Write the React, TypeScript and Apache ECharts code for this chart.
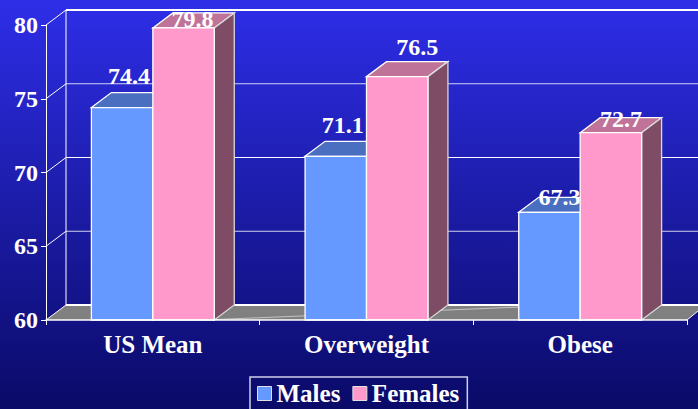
import React, { useEffect, useRef } from "react";
import * as echarts from "echarts";

const categories = ["US Mean", "Overweight", "Obese"];
const males = [74.4, 71.1, 67.3];
const females = [79.8, 76.5, 72.7];
const yTicks = [60, 65, 70, 75, 80];
const maleLabelShift = [[7, -32], [7, -31], [10, -15]];
const femaleLabelShift = [[9, -9], [20, -30], [10, -14]];

const DX = 20;
const DY = -15;
const FONT = '"Liberation Serif", serif';
const EDGE = "#ffffff";

function barSeries(name: string, values: number[], side: number, front: string, top: string, right: string, z: number) {
  return {
    type: "custom",
    name,
    z,
    coordinateSystem: "cartesian2d",
    clip: false,
    itemStyle: { color: front },
    data: values.map((v, i) => [i, v]),
    encode: { x: 0, y: 1 },
    renderItem: (_: any, api: any) => {
      const cat = api.value(0);
      const val = api.value(1);
      const p = api.coord([cat, val]);
      const base = api.coord([cat, 60]);
      const w = api.size([1, 0])[0] * 0.2875;
      const x0 = p[0] + (side < 0 ? -w : 0);
      const x1 = x0 + w;
      const y0 = p[1];
      const y1 = base[1];
      const edge = { stroke: EDGE, lineWidth: 1.3 };
      return {
        type: "group",
        children: [
          { type: "polygon", shape: { points: [[x0, y0], [x0 + DX, y0 + DY], [x1 + DX, y0 + DY], [x1, y0]] }, style: { fill: top, ...edge } },
          { type: "polygon", shape: { points: [[x1, y0], [x1 + DX, y0 + DY], [x1 + DX, y1 + DY], [x1, y1]] }, style: { fill: right, stroke: "#d8d8d8", lineWidth: 1.3 } },
          { type: "rect", shape: { x: x0, y: y0, width: w, height: y1 - y0 }, style: { fill: front, ...edge } },
        ],
      };
    },
  };
}

function labelSeries(values: number[], side: number, shift: number[][]) {
  return {
    type: "custom",
    z: 20,
    silent: true,
    coordinateSystem: "cartesian2d",
    clip: false,
    data: values.map((v, i) => [i, v]),
    encode: { x: 0, y: 1 },
    renderItem: (params: any, api: any) => {
      const p = api.coord([api.value(0), api.value(1)]);
      const w = api.size([1, 0])[0] * 0.2875;
      const sh = shift[params.dataIndex];
      return {
        type: "text",
        x: p[0] + (side * w) / 2 + sh[0],
        y: p[1] + sh[1],
        style: {
          text: api.value(1).toFixed(1),
          fill: "#ffffff",
          font: `bold 24px ${FONT}`,
          align: "center",
          verticalAlign: "middle",
        },
      };
    },
  };
}

export default function App() {
  const ref = useRef<HTMLDivElement>(null);
  useEffect(() => {
    document.body.style.margin = "0";
    const chart = echarts.init(ref.current!, undefined, { renderer: "svg" });
    const wallSeries = {
      type: "custom",
      z: 1,
      silent: true,
      coordinateSystem: "cartesian2d",
      clip: false,
      data: yTicks.map((t) => [0, t]),
      encode: { x: 0, y: 1 },
      renderItem: (_: any, api: any) => {
        const v = api.value(1);
        const band = api.size([1, 0])[0];
        const c0 = api.coord([0, v]);
        const c2 = api.coord([2, v]);
        const a = [c0[0] - band / 2, c0[1]];
        const b = [c2[0] + band / 2, c2[1]];
        const R = 698;
        const children: any[] = [];
        if (v === 60) {
          const top = api.coord([0, 80]);
          children.push(
            {
              type: "polygon",
              shape: { points: [[a[0], a[1]], [a[0] + DX, a[1] + DY], [R, a[1] + DY], [R, a[1] - 9], [b[0], b[1]]] },
              style: { fill: "#808080" },
            },
            { type: "line", shape: { x1: 216, y1: a[1] - 0.5, x2: 570, y2: a[1] + DY }, style: { stroke: "#c4c4c4", lineWidth: 1 } },
            { type: "line", shape: { x1: a[0] + DX, y1: top[1] + DY, x2: a[0] + DX, y2: a[1] + DY }, style: { stroke: "#ffffff", lineWidth: 1 } },
            { type: "line", shape: { x1: b[0], y1: b[1], x2: R, y2: a[1] - 9 }, style: { stroke: "#ffffff", lineWidth: 1 } },
          );
        }
        children.push(
          { type: "line", shape: { x1: a[0], y1: a[1], x2: a[0] + DX, y2: a[1] + DY }, style: { stroke: "#ffffff", lineWidth: 1 } },
          {
            type: "line",
            shape: { x1: a[0] + DX, y1: a[1] + DY, x2: R, y2: a[1] + DY },
            style: { stroke: "#ffffff", lineWidth: v === 80 || v === 60 ? 2 : 1, opacity: v === 65 || v === 75 ? 0.8 : 1 },
          },
        );
        return { type: "group", children };
      },
    };
    chart.setOption({
      animation: false,
      backgroundColor: {
        type: "linear", x: 0, y: 0, x2: 0, y2: 1,
        colorStops: [{ offset: 0, color: "#2e2ee8" }, { offset: 1, color: "#0a0a68" }],
      },
      textStyle: { fontFamily: FONT },
      grid: { left: 46, top: 25, width: 641, height: 295 },
      legend: {
        left: 250,
        top: 377,
        data: ["Males", "Females"],
        itemWidth: 14,
        itemHeight: 14,
        itemGap: 12,
        itemStyle: { borderColor: "#e0e0e0", borderWidth: 1 },
        padding: [4, 8, 30, 7],
        borderColor: "#d0d0e8",
        borderWidth: 1.5,
        textStyle: { color: "#ffffff", fontSize: 25, fontWeight: "bold", fontFamily: FONT },
        icon: "rect",
      },
      xAxis: {
        type: "category",
        data: categories,
        boundaryGap: true,
        axisLine: { lineStyle: { color: "#ffffff", width: 1.5 } },
        axisTick: { show: true, length: 5, lineStyle: { color: "#ffffff" } },
        axisLabel: { color: "#ffffff", fontSize: 25, fontWeight: "bold", fontFamily: FONT, margin: 12 },
        splitLine: { show: false },
        z: 10,
      },
      yAxis: {
        type: "value",
        min: 60,
        max: 80,
        interval: 5,
        axisLine: { show: true, lineStyle: { color: "#ffffff", width: 1 } },
        axisTick: { show: true, length: 5, lineStyle: { color: "#ffffff" } },
        axisLabel: { color: "#ffffff", fontSize: 24, fontWeight: "bold", fontFamily: FONT, margin: 8 },
        splitLine: { show: false },
      },
      series: [
        wallSeries,
        barSeries("Males", males, -1, "#6699ff", "#4a6fc0", "#3d5c99", 5),
        barSeries("Females", females, 1, "#ff99cc", "#bf7399", "#7f4c66", 6),
        labelSeries(males, -1, maleLabelShift),
        labelSeries(females, 1, femaleLabelShift),
      ],
    });
    return () => chart.dispose();
  }, []);
  return <div ref={ref} style={{ width: 698, height: 409 }} />;
}
